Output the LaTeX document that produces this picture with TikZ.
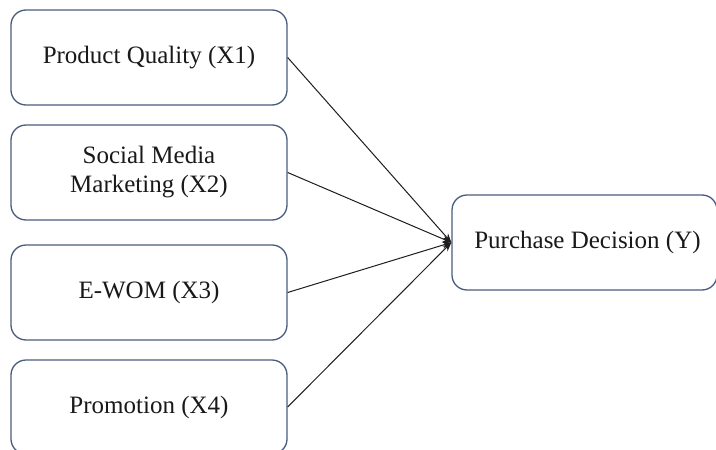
\documentclass[tikz,border=0pt]{standalone}
\usepackage{fontspec}
\setmainfont{Liberation Serif}
\usetikzlibrary{arrows.meta}
\definecolor{boxline}{HTML}{4A5D7E}
\definecolor{conn}{HTML}{1E1E1E}
\begin{document}
\begin{tikzpicture}[x=1pt,y=-1pt,
  box/.style={draw=boxline, line width=1.3pt, rounded corners=15pt, fill=white,
    minimum height=95pt, align=center, inner sep=0pt,
    font=\fontsize{25}{29}\selectfont, text=black!90},
  leftbox/.style={box, minimum width=276pt},
  link/.style={draw=conn, line width=1pt, -{Stealth[length=9pt,width=7pt]}}]
\useasboundingbox (0,0) rectangle (716,450);
\clip (0,0) rectangle (716,450);
\fill[white] (0,0) rectangle (716,450);
\node[leftbox] (x1) at (149,57.5) {Product Quality (X1)};
\node[leftbox] (x2) at (149,172.5) {Social Media\\Marketing (X2)};
\node[leftbox] (x3) at (149,292.5) {E-WOM (X3)};
\node[leftbox, minimum height=94pt] (x4) at (149,407) {Promotion (X4)};
\node[box, minimum width=265pt] (y) at (584.5,242.5) {\hspace*{6pt}Purchase Decision (Y)};
\draw[link] (x1.east) -- (y.west);
\draw[link] (x2.east) -- (y.west);
\draw[link] (x3.east) -- (y.west);
\draw[link] (x4.east) -- (y.west);
\end{tikzpicture}
\end{document}
